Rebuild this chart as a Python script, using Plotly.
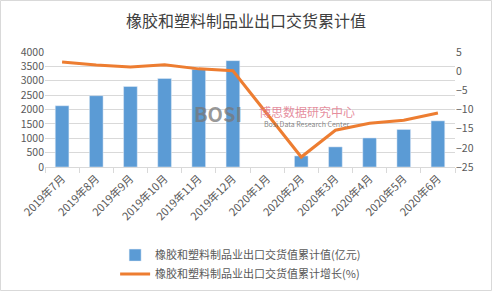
import plotly.graph_objects as go

categories = ["2019年7月", "2019年8月", "2019年9月", "2019年10月", "2019年11月", "2019年12月",
              "2020年1月", "2020年2月", "2020年3月", "2020年4月", "2020年5月", "2020年6月"]
export_value = [2130, 2480, 2800, 3080, 3400, 3700, None, 385, 700, 1010, 1305, 1605]
growth_pct = [2.4, 1.6, 1.1, 1.7, 0.6, 0.1, None, -22.4, -15.4, -13.6, -12.8, -10.9]

bar_name = "橡胶和塑料制品业出口交货值累计值(亿元)"
line_name = "橡胶和塑料制品业出口交货值累计增长(%)"
title = "橡胶和塑料制品业出口交货累计值"

font_family = "Noto Sans CJK SC, Noto Sans, sans-serif"

fig = go.Figure()
fig.add_trace(go.Bar(x=categories, y=export_value, name=bar_name,
                     marker=dict(color="#5b9bd5"), width=0.4, yaxis="y"))
fig.add_trace(go.Scatter(x=categories, y=growth_pct, name=line_name, mode="lines",
                         line=dict(color="#ed7d31", width=3), connectgaps=True, yaxis="y2"))

fig.update_layout(
    width=492, height=291,
    margin=dict(l=45, r=37, t=52, b=124, autoexpand=False),
    paper_bgcolor="white", plot_bgcolor="white",
    font=dict(family=font_family, size=11, color="#595959"),
    title=dict(text=title, x=0.5, xanchor="center", y=0.925, yanchor="middle",
               font=dict(size=16, color="#404040")),
    showlegend=True,
    legend=dict(orientation="v", x=0.171, xanchor="left", y=-0.64, yanchor="top",
                font=dict(size=11, color="#595959"), tracegroupgap=2,
                bgcolor="rgba(0,0,0,0)"),
    xaxis=dict(type="category", tickangle=-45, showgrid=False,
               showline=True, linecolor="#d9d9d9", ticks="outside", tickson="boundaries",
               ticklen=5, tickcolor="#d9d9d9", tickfont=dict(size=11, color="#595959")),
    yaxis=dict(range=[0, 4000], dtick=500, showgrid=True, gridcolor="#d9d9d9",
               zeroline=False, showline=False, ticks="", tickfont=dict(size=10.5, color="#595959")),
    yaxis2=dict(range=[-25, 5], dtick=5, overlaying="y", side="right", showgrid=False,
                zeroline=False, showline=False, tickfont=dict(size=10.5, color="#595959")),
    bargap=0.5,
)

# outer chart border
fig.add_shape(type="rect", xref="paper", yref="paper",
              x0=(0.5 - 45) / 410, x1=(491.5 - 45) / 410,
              y0=(167 - 290.5) / 115, y1=(167 - 0.5) / 115,
              line=dict(color="#d9d9d9", width=1), layer="below")

# watermark (pixel positions converted to paper coords)
def px(x):
    return (x - 45) / 410

def py(y):
    return (167 - y) / 115

fig.add_annotation(text="<b>BOSI</b>", xref="paper", yref="paper", x=px(218), y=py(113),
                   showarrow=False, font=dict(size=20, color="rgba(120,120,120,0.75)"))
fig.add_annotation(text="博思数据研究中心", xref="paper", yref="paper", x=px(307), y=py(111),
                   showarrow=False, font=dict(size=12, color="rgba(225,120,140,0.85)"))
fig.add_annotation(text="Bosi Data Research Center", xref="paper", yref="paper", x=px(307), y=py(124),
                   showarrow=False, font=dict(size=7, color="rgba(110,110,110,0.85)"))

fig.write_html("out.html")
